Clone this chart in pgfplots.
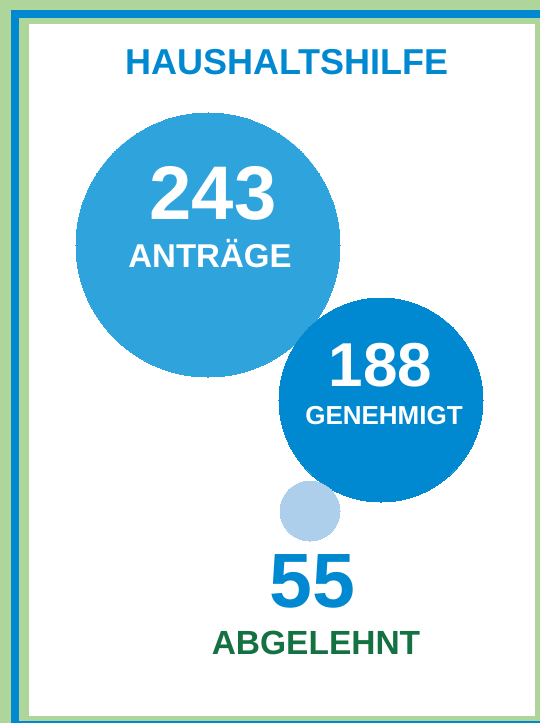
\documentclass[border=0pt]{standalone}
\usepackage{fontspec}
\setmainfont{Liberation Sans}
\usepackage{pgfplots}
\pgfplotsset{compat=1.18}
\definecolor{bggreen}{HTML}{AED69A}
\definecolor{bandblue}{HTML}{0089D0}
\definecolor{bigc}{HTML}{2FA3DC}
\definecolor{midc}{HTML}{0089D0}
\definecolor{smallc}{HTML}{AECFEC}
\definecolor{txtblue}{HTML}{0089D0}
\definecolor{txtgreen}{HTML}{147142}
\newcommand{\fs}[1]{\fontsize{#1bp}{#1bp}\selectfont\bfseries}
\begin{document}
\begin{tikzpicture}
\begin{axis}[
  scale only axis, width=540bp, height=723bp,
  xmin=0, xmax=540, ymin=0, ymax=723, y dir=reverse,
  hide axis, clip=false,
]
% frame
\fill[bggreen] (axis cs:0,0) rectangle (axis cs:540,723);
\fill[bandblue] (axis cs:11,10) rectangle (axis cs:540,18);
\fill[bandblue] (axis cs:11,10) rectangle (axis cs:19,723);
\fill[bandblue] (axis cs:11,721) rectangle (axis cs:540,723);
\fill[white] (axis cs:29,24) rectangle (axis cs:535,716);
% bubbles: radius proportional to value (r = 0.543 * value)
\addplot[only marks, mark=*, mark size=132bp, mark options={fill=bigc, draw=bigc, line width=0pt}] coordinates {(208,245)};
\addplot[only marks, mark=*, mark size=102bp, mark options={fill=midc, draw=midc, line width=0pt}] coordinates {(381,400)};
\addplot[only marks, mark=*, mark size=30bp, mark options={fill=smallc, draw=smallc, line width=0pt}] coordinates {(310,511)};
% text anchors
\coordinate (tTitle) at (axis cs:287,75);
\coordinate (tA) at (axis cs:213,220);
\coordinate (tAl) at (axis cs:210,268);
\coordinate (tG) at (axis cs:380.5,387);
\coordinate (tGl) at (axis cs:384,425);
\coordinate (tR) at (axis cs:312.5,608);
\coordinate (tRl) at (axis cs:316,655);
\end{axis}
\node[anchor=base, inner sep=0, text=txtblue, font=\fs{36}] at (tTitle) {HAUSHALTSHILFE};
\node[anchor=base, inner sep=0, text=white, font=\fs{76}] at (tA) {243};
\node[anchor=base, inner sep=0, text=white, font=\fs{33}] at (tAl) {ANTRÄGE};
\node[anchor=base, inner sep=0, text=white, font=\fs{62}] at (tG) {188};
\node[anchor=base, inner sep=0, text=white, font=\fs{26}] at (tGl) {GENEHMIGT};
\node[anchor=base, inner sep=0, text=txtblue, font=\fs{77}] at (tR) {55};
\node[anchor=base, inner sep=0, text=txtgreen, font=\fs{33.5}] at (tRl) {ABGELEHNT};
\end{tikzpicture}
\end{document}
